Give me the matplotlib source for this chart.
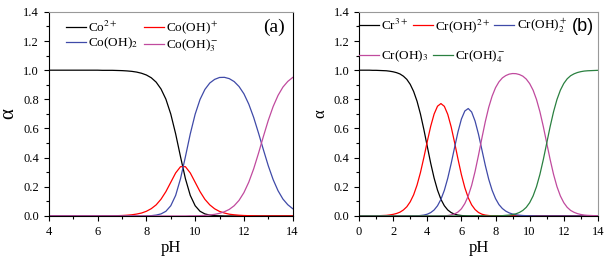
import matplotlib
matplotlib.use("Agg")
import matplotlib.pyplot as plt
from matplotlib.ticker import MultipleLocator, FormatStrFormatter

plt.rcParams['font.family'] = ['Liberation Serif', 'DejaVu Serif']
plt.rcParams['mathtext.fontset'] = 'stix'

# ---------------- data: panel (a) Co(II) speciation ----------------
ph_a = [4.0, 4.2, 4.4, 4.6, 4.8, 5.0, 5.2, 5.4, 5.6, 5.8,
        6.0, 6.2, 6.4, 6.6, 6.8, 7.0, 7.2, 7.4, 7.6, 7.8,
        8.0, 8.2, 8.4, 8.6, 8.8, 9.0, 9.2, 9.4, 9.6, 9.8,
        10.0, 10.2, 10.4, 10.6, 10.8, 11.0, 11.2, 11.4, 11.6, 11.8,
        12.0, 12.2, 12.4, 12.6, 12.8, 13.0, 13.2, 13.4, 13.6, 13.8,
        14.0]
co2 = [1.0, 1.0, 1.0, 1.0, 1.0, 1.0, 1.0, 1.0, 1.0, 1.0,
       1.0, 0.999, 0.999, 0.999, 0.998, 0.997, 0.995, 0.992, 0.987, 0.979,
       0.967, 0.948, 0.918, 0.871, 0.801, 0.699, 0.563, 0.406, 0.256, 0.141,
       0.070, 0.032, 0.014, 0.006, 0.002, 0.001, 0, 0, 0, 0,
       0, 0, 0, 0, 0, 0, 0, 0, 0, 0,
       0]
cooh = [0, 0, 0, 0, 0, 0, 0, 0, 0, 0,
        0, 0.001, 0.001, 0.001, 0.002, 0.003, 0.005, 0.008, 0.013, 0.020,
        0.032, 0.050, 0.076, 0.115, 0.167, 0.231, 0.295, 0.338, 0.338, 0.295,
        0.231, 0.167, 0.114, 0.076, 0.049, 0.031, 0.020, 0.012, 0.008, 0.005,
        0.003, 0.002, 0.001, 0, 0, 0, 0, 0, 0, 0,
        0]
cooh2 = [0, 0, 0, 0, 0, 0, 0, 0, 0, 0,
         0, 0, 0, 0, 0, 0, 0, 0, 0, 0,
         0.001, 0.002, 0.006, 0.014, 0.032, 0.070, 0.141, 0.256, 0.406, 0.563,
         0.698, 0.799, 0.868, 0.912, 0.937, 0.950, 0.951, 0.942, 0.922, 0.888,
         0.838, 0.767, 0.676, 0.568, 0.454, 0.344, 0.249, 0.173, 0.116, 0.077,
         0.050]
cooh3 = [0, 0, 0, 0, 0, 0, 0, 0, 0, 0,
         0, 0, 0, 0, 0, 0, 0, 0, 0, 0,
         0, 0, 0, 0, 0, 0, 0, 0, 0, 0.001,
         0.001, 0.002, 0.004, 0.007, 0.011, 0.018, 0.029, 0.045, 0.070, 0.107,
         0.160, 0.232, 0.323, 0.431, 0.546, 0.656, 0.751, 0.827, 0.884, 0.923,
         0.950]
labels_a = [r'Co$^{2+}$', r'Co(OH)$^+$', r'Co(OH)$_2$', r'Co(OH)$_3^-$']

# ---------------- data: panel (b) Cr(III) speciation ----------------
ph_b = [0.0, 0.2, 0.4, 0.6, 0.8, 1.0, 1.2, 1.4, 1.6, 1.8,
        2.0, 2.2, 2.4, 2.6, 2.8, 3.0, 3.2, 3.4, 3.6, 3.8,
        4.0, 4.2, 4.4, 4.6, 4.8, 5.0, 5.2, 5.4, 5.6, 5.8,
        6.0, 6.2, 6.4, 6.6, 6.8, 7.0, 7.2, 7.4, 7.6, 7.8,
        8.0, 8.2, 8.4, 8.6, 8.8, 9.0, 9.2, 9.4, 9.6, 9.8,
        10.0, 10.2, 10.4, 10.6, 10.8, 11.0, 11.2, 11.4, 11.6, 11.8,
        12.0, 12.2, 12.4, 12.6, 12.8, 13.0, 13.2, 13.4, 13.6, 13.8,
        14.0]
cr3 = [1.0, 1.0, 1.0, 1.0, 0.999, 0.999, 0.998, 0.997, 0.996, 0.993,
       0.989, 0.983, 0.974, 0.959, 0.937, 0.903, 0.854, 0.787, 0.699, 0.593,
       0.477, 0.362, 0.260, 0.177, 0.114, 0.070, 0.041, 0.023, 0.012, 0.006,
       0.003, 0.001, 0, 0, 0, 0, 0, 0, 0, 0,
       0, 0, 0, 0, 0, 0, 0, 0, 0, 0,
       0, 0, 0, 0, 0, 0, 0, 0, 0, 0,
       0, 0, 0, 0, 0, 0, 0, 0, 0, 0,
       0]
croh = [0, 0, 0, 0, 0.001, 0.001, 0.002, 0.003, 0.004, 0.007,
        0.011, 0.017, 0.026, 0.041, 0.063, 0.097, 0.145, 0.212, 0.298, 0.401,
        0.511, 0.615, 0.699, 0.753, 0.771, 0.752, 0.697, 0.611, 0.504, 0.390,
        0.283, 0.194, 0.125, 0.076, 0.044, 0.024, 0.012, 0.006, 0.003, 0.001,
        0.001, 0, 0, 0, 0, 0, 0, 0, 0, 0,
        0, 0, 0, 0, 0, 0, 0, 0, 0, 0,
        0, 0, 0, 0, 0, 0, 0, 0, 0, 0,
        0]
croh2 = [0, 0, 0, 0, 0, 0, 0, 0, 0, 0,
         0, 0, 0, 0, 0, 0, 0.001, 0.001, 0.003, 0.006,
         0.012, 0.023, 0.041, 0.070, 0.114, 0.176, 0.259, 0.360, 0.470, 0.577,
         0.665, 0.720, 0.737, 0.713, 0.651, 0.561, 0.454, 0.347, 0.252, 0.176,
         0.119, 0.078, 0.051, 0.033, 0.021, 0.013, 0.008, 0.005, 0.003, 0.002,
         0.001, 0.001, 0, 0, 0, 0, 0, 0, 0, 0,
         0, 0, 0, 0, 0, 0, 0, 0, 0, 0,
         0]
croh3 = [0, 0, 0, 0, 0, 0, 0, 0, 0, 0,
         0, 0, 0, 0, 0, 0, 0, 0, 0, 0,
         0, 0, 0, 0, 0.001, 0.001, 0.003, 0.007, 0.014, 0.027,
         0.049, 0.085, 0.137, 0.210, 0.305, 0.416, 0.534, 0.647, 0.745, 0.822,
         0.880, 0.920, 0.947, 0.963, 0.973, 0.977, 0.976, 0.970, 0.959, 0.939,
         0.908, 0.863, 0.799, 0.715, 0.613, 0.500, 0.387, 0.285, 0.201, 0.137,
         0.091, 0.059, 0.038, 0.025, 0.016, 0.010, 0.006, 0.004, 0.003, 0.002,
         0.001]
croh4 = [0, 0, 0, 0, 0, 0, 0, 0, 0, 0,
         0, 0, 0, 0, 0, 0, 0, 0, 0, 0,
         0, 0, 0, 0, 0, 0, 0, 0, 0, 0,
         0, 0, 0, 0, 0, 0, 0, 0, 0, 0.001,
         0.001, 0.001, 0.002, 0.004, 0.006, 0.010, 0.015, 0.024, 0.038, 0.059,
         0.091, 0.137, 0.201, 0.285, 0.387, 0.500, 0.613, 0.715, 0.799, 0.863,
         0.909, 0.941, 0.962, 0.975, 0.984, 0.990, 0.994, 0.996, 0.997, 0.998,
         0.999]
labels_b = [r'Cr$^{3+}$', r'Cr(OH)$^{2+}$', r'Cr(OH)$_2^+$', r'Cr(OH)$_3$', r'Cr(OH)$_4^-$']

colors_a = ['black', '#ff0000', '#3f4aa8', '#c04a9e']
colors_b = ['black', '#ff0000', '#3f4aa8', '#c04a9e', '#2a8040']

series_a = [co2, cooh, cooh2, cooh3]
series_b = [cr3, croh, croh2, croh3, croh4]

# ---------------- figure ----------------
fig = plt.figure(figsize=(6.11, 2.64), dpi=100)


def style(ax, xlim):
    ax.set_xlim(*xlim)
    ax.set_ylim(0, 1.4)
    ax.xaxis.set_major_locator(MultipleLocator(2))
    ax.xaxis.set_minor_locator(MultipleLocator(1))
    ax.yaxis.set_major_locator(MultipleLocator(0.2))
    ax.yaxis.set_minor_locator(MultipleLocator(0.1))
    ax.yaxis.set_major_formatter(FormatStrFormatter('%.1f'))
    ax.tick_params(which='both', direction='out', labelsize=9, width=0.8)
    ax.tick_params(which='major', length=3.5)
    ax.tick_params(which='minor', length=2)
    ax.spines['top'].set_color('#999999')
    ax.set_xlabel('pH', fontsize=12, labelpad=2)


leg_kw = dict(frameon=False, fontsize=9.5, handlelength=1.5, handletextpad=0.2,
              borderpad=0, borderaxespad=0)

# panel (a)
ax = fig.add_axes([0.080, 0.182, 0.399, 0.773])
ha = []
for y, c, l in zip(series_a, colors_a, labels_a):
    ha += ax.plot(ph_a, y, color=c, lw=0.9, label=l)
style(ax, (4, 14))
ax.set_ylabel('α', fontsize=15, labelpad=4)
ax.text(0.924, 0.925, '(a)', transform=ax.transAxes, fontsize=14, ha='center', va='center')
ax.legend([ha[0], ha[2], ha[1], ha[3]], [labels_a[0], labels_a[2], labels_a[1], labels_a[3]],
          ncol=2, loc='upper left', bbox_to_anchor=(0.07, 0.962),
          columnspacing=0.4, labelspacing=0.08, **leg_kw)

# panel (b)
ax2 = fig.add_axes([0.5876, 0.182, 0.391, 0.773])
hb = []
for y, c, l in zip(series_b, colors_b, labels_b):
    hb += ax2.plot(ph_b, y, color=c, lw=0.9, label=l)
style(ax2, (0, 14))
ax2.spines['right'].set_color('#999999')
ax2.set_ylabel('α', fontsize=12, labelpad=4)
ax2.text(0.937, 0.93, '(b)', transform=ax2.transAxes, fontsize=13, ha='center', va='center',
         family='Liberation Sans')
leg1 = ax2.legend(hb[:3], labels_b[:3], ncol=3, loc='upper left', bbox_to_anchor=(0.0, 0.975),
                  columnspacing=0.3, **leg_kw)
ax2.add_artist(leg1)
ax2.legend(hb[3:], labels_b[3:], ncol=2, loc='upper left', bbox_to_anchor=(0.0, 0.82),
           columnspacing=0.3, **leg_kw)

fig.savefig("out.png", dpi=100)
